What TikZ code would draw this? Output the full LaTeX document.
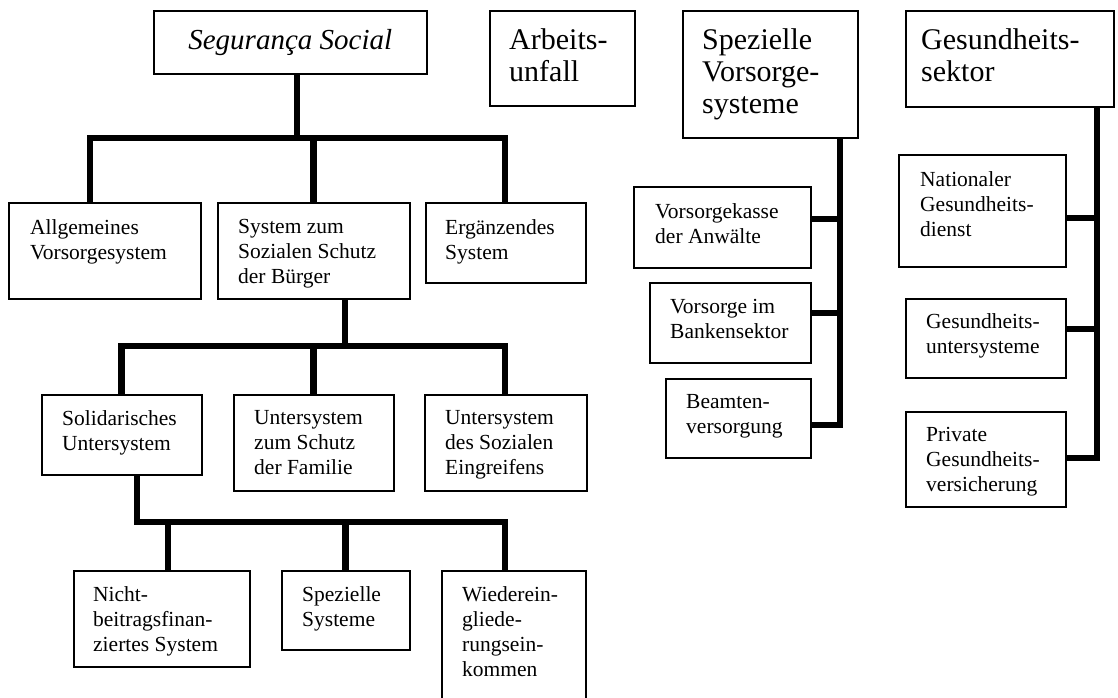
\documentclass[tikz,border=0pt]{standalone}
\usepackage{fontspec}
\setmainfont{Liberation Serif}
\usetikzlibrary{positioning}
\newcommand{\smalltxt}{\fontsize{21.5}{25}\selectfont}
\newcommand{\bigtxt}{\fontsize{30}{32}\selectfont}
\begin{document}
\begin{tikzpicture}[x=1pt,y=-1pt,
orgbox/.style 2 args={draw,rectangle,line width=1.5pt,anchor=north west,inner sep=0pt,minimum width=#1pt,minimum height=#2pt},
boxtext/.style={inner sep=0pt,align=left,font=\smalltxt},
bigtext/.style={inner sep=0pt,align=left,font=\bigtxt},
conn/.style={line width=6.7pt,line join=miter}]
\useasboundingbox (0,0) rectangle (1118,697);
% top row
\node[orgbox={273}{63},font=\fontsize{29}{32}\selectfont\itshape] (ss) at (153,10) {Segurança Social};
\node[orgbox={145}{95}] (au) at (489,10) {};
\node[bigtext,below right=18pt and 20pt of au.north west] (au-t) {Arbeits-\\unfall};
\node[orgbox={175}{127}] (svs) at (682,10) {};
\node[bigtext,below right=18pt and 20pt of svs.north west] (svs-t) {Spezielle\\Vorsorge-\\systeme};
\node[orgbox={208}{96}] (gs) at (905,10) {};
\node[bigtext,below right=18pt and 16pt of gs.north west] (gs-t) {Gesundheits-\\sektor};
% first level
\node[orgbox={192}{96}] (allg) at (8,202) {};
\node[boxtext,below right=17pt and 22pt of allg.north west] (allg-t) {Allgemeines\\Vorsorgesystem};
\node[orgbox={192}{96}] (sys) at (217,202) {};
\node[boxtext,below right=17pt and 21pt of sys.north west] (sys-t) {System zum\\Sozialen Schutz\\der Bürger};
\node[orgbox={160}{80}] (erg) at (425,202) {};
\node[boxtext,below right=17pt and 20pt of erg.north west] (erg-t) {Ergänzendes\\System};
% second level
\node[orgbox={160}{80}] (sol) at (41,394) {};
\node[boxtext,below right=16pt and 21pt of sol.north west] (sol-t) {Solidarisches\\Untersystem};
\node[orgbox={160}{96}] (usf) at (233,394) {};
\node[boxtext,below right=16pt and 21pt of usf.north west] (usf-t) {Untersystem\\zum Schutz\\der Familie};
\node[orgbox={162}{96}] (uss) at (424,394) {};
\node[boxtext,below right=16pt and 21pt of uss.north west] (uss-t) {Untersystem\\des Sozialen\\Eingreifens};
% third level
\node[orgbox={176}{96}] (nbf) at (73,570) {};
\node[boxtext,below right=16pt and 20pt of nbf.north west] (nbf-t) {Nicht-\\beitragsfinan-\\ziertes System};
\node[orgbox={128}{79}] (spz) at (281,570) {};
\node[boxtext,below right=16pt and 21pt of spz.north west] (spz-t) {Spezielle\\Systeme};
\node[orgbox={144}{160}] (wie) at (441,570) {};
\node[boxtext,below right=16pt and 21pt of wie.north west] (wie-t) {Wiederein-\\gliede-\\rungsein-\\kommen};
% special schemes
\node[orgbox={177}{81}] (vka) at (633,186) {};
\node[boxtext,below right=17pt and 22pt of vka.north west] (vka-t) {Vorsorgekasse\\der Anwälte};
\node[orgbox={161}{80}] (vbs) at (649,282) {};
\node[boxtext,below right=17pt and 21pt of vbs.north west] (vbs-t) {Vorsorge im\\Bankensektor};
\node[orgbox={145}{79}] (bea) at (665,378) {};
\node[boxtext,below right=16pt and 21pt of bea.north west] (bea-t) {Beamten-\\versorgung};
% health sector
\node[orgbox={167}{112}] (nat) at (898,154) {};
\node[boxtext,below right=17pt and 22pt of nat.north west] (nat-t) {Nationaler\\Gesundheits-\\dienst};
\node[orgbox={160}{79}] (gus) at (905,298) {};
\node[boxtext,below right=15pt and 21pt of gus.north west] (gus-t) {Gesundheits-\\untersysteme};
\node[orgbox={160}{95}] (pgv) at (905,411) {};
\node[boxtext,below right=16pt and 21pt of pgv.north west] (pgv-t) {Private\\Gesundheits-\\versicherung};
% tree connectors
\coordinate (j1) at (297,138);
\coordinate (b1l) at (90,138);
\coordinate (b1r) at (505,138);
\draw[conn] (ss.south -| j1) -- (j1);
\draw[conn] (b1l |- allg.north) -- (b1l) -- (b1r) -- (b1r |- erg.north);
\draw[conn] (sys.north) -- (sys.north |- b1l);
\coordinate (j2) at (345,346);
\coordinate (b2r) at (505,346);
\draw[conn] (sys.south -| j2) -- (j2);
\draw[conn] (sol.north) -- (sol.north |- b2r) -- (b2r) -- (b2r |- uss.north);
\draw[conn] (usf.north) -- (usf.north |- b2r);
\coordinate (b3l) at (137,522);
\coordinate (b3r) at (505,522);
\coordinate (d3) at (168,522);
\draw[conn] (sol.south -| b3l) -- (b3l) -- (b3r) -- (b3r |- wie.north);
\draw[conn] (d3 |- nbf.north) -- (d3);
\draw[conn] (spz.north) -- (spz.north |- b3l);
% side connectors
\coordinate (s1) at (840,219);
\coordinate (s2) at (840,313);
\coordinate (s3) at (840,425);
\draw[conn] (svs.south -| s1) -- (s3) -- (s3 -| bea.east);
\draw[conn] (s1 -| vka.east) -- (s1);
\draw[conn] (s2 -| vbs.east) -- (s2);
\coordinate (g1) at (1097,218);
\coordinate (g2) at (1097,329);
\coordinate (g3) at (1097,458);
\draw[conn] (gs.south -| g1) -- (g3) -- (g3 -| pgv.east);
\draw[conn] (g1 -| nat.east) -- (g1);
\draw[conn] (g2 -| gus.east) -- (g2);
\end{tikzpicture}
\end{document}
